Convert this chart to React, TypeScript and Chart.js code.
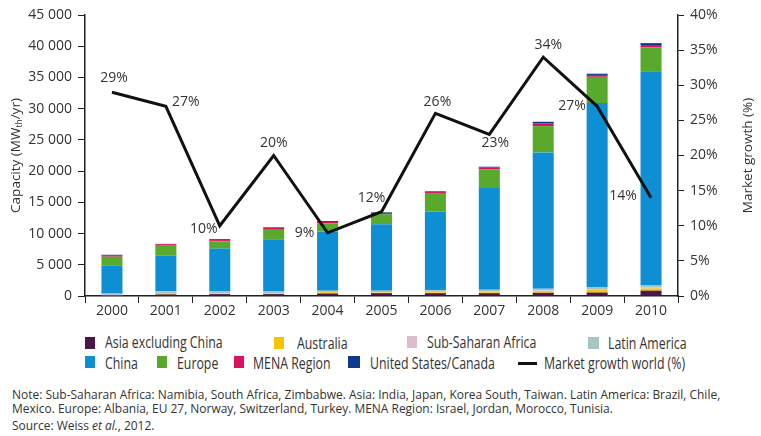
import React, { useEffect, useRef } from "react";
import { Chart, registerables } from "chart.js";

Chart.register(...registerables);

// ---- Data ----
const YEARS = ["2000", "2001", "2002", "2003", "2004", "2005", "2006", "2007", "2008", "2009", "2010"];
const ASIA_EX_CHINA = [100, 250, 300, 300, 400, 450, 450, 450, 500, 550, 850];
const AUSTRALIA = [50, 60, 70, 80, 200, 100, 150, 150, 250, 400, 350];
const SUB_SAHARAN = [30, 40, 50, 50, 50, 60, 80, 100, 120, 150, 200];
const LATIN_AMERICA = [200, 400, 300, 300, 200, 250, 300, 300, 300, 350, 300];
const CHINA = [4520, 5750, 6880, 8370, 9450, 10640, 12520, 16300, 21830, 29450, 34200];
const EUROPE = [1400, 1550, 1150, 1500, 1350, 1600, 3000, 3000, 4200, 4200, 3900];
const MENA = [250, 250, 200, 300, 200, 200, 200, 250, 400, 300, 400];
const US_CANADA = [50, 50, 150, 100, 150, 100, 100, 150, 300, 200, 300];
const GROWTH = [29, 27, 10, 20, 9, 12, 26, 23, 34, 27, 14];
const GROWTH_LABELS = ["29%", "27%", "10%", "20%", "9%", "12%", "26%", "23%", "34%", "27%", "14%"];
const CAPACITY_MAX = 45000;
const CAPACITY_STEP = 5000;
const GROWTH_MAX = 40;
const GROWTH_STEP = 5;

// ---- Styles ----
const COLORS = {
  asia: "#4a1748",
  australia: "#f6c400",
  subSaharan: "#dcbdd0",
  latin: "#a8c5c6",
  china: "#0f8fd3",
  europe: "#58a92c",
  mena: "#d8145f",
  us: "#0d3a8a",
  line: "#111111",
};
const LABEL_OFFSETS: [number, number][] = [
  [2, -14], [20, -4], [-16, 3], [0, -12], [-23, 0], [-10, -14], [2, -11], [6, 9], [5, -12], [-25, 0], [-28, -2],
];
const TEXT = "#333333";
const FONT = "'Open Sans', 'Noto Sans', sans-serif";

const fmt = (v: number) => String(v).replace(/\B(?=(\d{3})+(?!\d))/g, " ");

const W = 761;
const CANVAS_H = 325;

export default function App() {
  const ref = useRef<HTMLCanvasElement | null>(null);

  useEffect(() => {
    if (!ref.current) return;
    const barDs = (label: string, data: number[], color: string) => ({
      type: "bar" as const,
      label,
      data,
      backgroundColor: color,
      borderWidth: 0,
      yAxisID: "y",
      stack: "cap",
      order: 2,
      barPercentage: 0.39,
      categoryPercentage: 1,
    });

    const labelsPlugin = {
      id: "growthLabels",
      afterDatasetsDraw(chart: any) {
        const ctx = chart.ctx;
        const meta = chart.getDatasetMeta(8);
        ctx.save();
        ctx.font = `14px ${FONT}`;
        ctx.fillStyle = TEXT;
        ctx.textAlign = "center";
        ctx.textBaseline = "middle";
        meta.data.forEach((pt: any, i: number) => {
          const [dx, dy] = LABEL_OFFSETS[i];
          ctx.fillText(GROWTH_LABELS[i], pt.x + dx, pt.y + dy);
        });
        ctx.restore();
      },
      afterDraw(chart: any) {
        const ctx = chart.ctx;
        const area = chart.chartArea;
        const cy = (area.top + area.bottom) / 2;
        ctx.save();
        ctx.fillStyle = TEXT;
        ctx.textBaseline = "middle";
        // Left title with subscript
        ctx.translate(16, cy);
        ctx.rotate(-Math.PI / 2);
        const main = `13.5px ${FONT}`;
        const sub = `8.5px ${FONT}`;
        ctx.font = main;
        const p1 = "Capacity (MW";
        const p3 = "/yr)";
        const w1 = ctx.measureText(p1).width;
        const w3 = ctx.measureText(p3).width;
        ctx.font = sub;
        const w2 = ctx.measureText("th").width;
        const total = w1 + w2 + w3;
        let x = -total / 2;
        ctx.textAlign = "left";
        ctx.font = main;
        ctx.fillText(p1, x, 0);
        x += w1;
        ctx.font = sub;
        ctx.fillText("th", x, 4);
        x += w2;
        ctx.font = main;
        ctx.fillText(p3, x, 0);
        ctx.restore();
        // Right title
        ctx.save();
        ctx.fillStyle = TEXT;
        ctx.font = `13.5px ${FONT}`;
        ctx.textAlign = "center";
        ctx.textBaseline = "middle";
        ctx.translate(748, cy);
        ctx.rotate(-Math.PI / 2);
        ctx.fillText("Market growth (%)", 0, 0);
        ctx.restore();
      },
    };

    const axisColor = "#222222";
    const chart = new Chart(ref.current, {
      type: "bar",
      data: {
        labels: YEARS,
        datasets: [
          barDs("Asia excluding China", ASIA_EX_CHINA, COLORS.asia),
          barDs("Australia", AUSTRALIA, COLORS.australia),
          barDs("Sub-Saharan Africa", SUB_SAHARAN, COLORS.subSaharan),
          barDs("Latin America", LATIN_AMERICA, COLORS.latin),
          barDs("China", CHINA, COLORS.china),
          barDs("Europe", EUROPE, COLORS.europe),
          barDs("MENA Region", MENA, COLORS.mena),
          barDs("United States/Canada", US_CANADA, COLORS.us),
          {
            type: "line" as const,
            label: "Market growth world (%)",
            data: GROWTH,
            borderColor: COLORS.line,
            borderWidth: 3,
            pointRadius: 0,
            tension: 0,
            yAxisID: "y1",
            order: 1,
          } as any,
        ],
      },
      options: {
        animation: false,
        responsive: false,
        maintainAspectRatio: false,
        layout: { padding: { top: 15, left: 0, right: 0, bottom: 0 } },
        plugins: { legend: { display: false }, tooltip: { enabled: false } },
        scales: {
          x: {
            stacked: true,
            grid: { display: true, drawOnChartArea: false, drawTicks: true, tickLength: 7, color: axisColor, lineWidth: 1, offset: true },
            border: { display: true, color: axisColor, width: 1.5 },
            ticks: { color: TEXT, font: { family: FONT, size: 14 }, padding: 0, maxRotation: 0 },
            afterFit: (s: any) => { s.height = CANVAS_H - 296; },
          },
          y: {
            stacked: true,
            position: "left",
            min: 0,
            max: CAPACITY_MAX,
            ticks: { stepSize: CAPACITY_STEP, color: TEXT, font: { family: FONT, size: 14 }, padding: 6, callback: (v: any) => fmt(Number(v)) },
            grid: { display: true, drawOnChartArea: false, drawTicks: true, tickLength: 7, color: axisColor },
            border: { display: true, color: axisColor, width: 1.5 },
            afterFit: (s: any) => { s.width = 85; },
          },
          y1: {
            position: "right",
            min: 0,
            max: GROWTH_MAX,
            ticks: { stepSize: GROWTH_STEP, color: TEXT, font: { family: FONT, size: 14 }, padding: 6, callback: (v: any) => `${v}%` },
            grid: { display: true, drawOnChartArea: false, drawTicks: true, tickLength: 6, color: axisColor },
            border: { display: true, color: axisColor, width: 1.5 },
            afterFit: (s: any) => { s.width = W - 678; },
          },
        },
      },
      plugins: [labelsPlugin],
    } as any);
    return () => chart.destroy();
  }, []);

  const sq = (left: number, top: number, color: string, w = 10, h = 12) => (
    <div style={{ position: "absolute", left, top, width: w, height: h, background: color }} />
  );
  const txt = (left: number, cy: number, s: string) => (
    <div style={{ position: "absolute", left, top: cy - 11, height: 22, lineHeight: "22px", fontFamily: FONT, fontSize: 16, color: TEXT, whiteSpace: "nowrap", transform: "scaleX(0.77)", transformOrigin: "0 50%" }}>{s}</div>
  );
  const noteStyle: React.CSSProperties = { position: "absolute", left: 12, fontFamily: FONT, fontSize: 13, color: TEXT, whiteSpace: "nowrap", lineHeight: "16px", transform: "scaleX(0.92)", transformOrigin: "0 50%" };

  return (
    <div style={{ position: "fixed", left: 0, top: 0, width: W, height: 436, background: "#fff", overflow: "hidden" }}>
      <canvas ref={ref} width={W} height={CANVAS_H} style={{ position: "absolute", left: 0, top: 0, width: W, height: CANVAS_H }} />
      {sq(85, 337, COLORS.asia)}{txt(105, 342, "Asia excluding China")}
      {sq(274, 337, COLORS.australia)}{txt(297, 343, "Australia")}
      {sq(407, 336, COLORS.subSaharan)}{txt(427, 342, "Sub-Saharan Africa")}
      {sq(588, 337, COLORS.latin, 11)}{txt(608, 343, "Latin America")}
      {sq(85, 356, COLORS.china)}{txt(105, 363, "China")}
      {sq(157, 356, COLORS.europe)}{txt(177, 363, "Europe")}
      {sq(234, 356, COLORS.mena)}{txt(253, 363, "MENA Region")}
      {sq(348, 356, COLORS.us, 12)}{txt(370, 363, "United States/Canada")}
      <div style={{ position: "absolute", left: 518, top: 362, width: 19, height: 3, background: COLORS.line }} />
      {txt(544, 363, "Market growth world (%)")}
      <div style={{ ...noteStyle, top: 386 }}>Note: Sub-Saharan Africa: Namibia, South Africa, Zimbabwe. Asia: India, Japan, Korea South, Taiwan. Latin America: Brazil, Chile,</div>
      <div style={{ ...noteStyle, top: 400 }}>Mexico. Europe: Albania, EU 27, Norway, Switzerland, Turkey. MENA Region: Israel, Jordan, Morocco, Tunisia.</div>
      <div style={{ ...noteStyle, top: 417 }}>Source: Weiss <i>et al.</i>, 2012.</div>
    </div>
  );
}
